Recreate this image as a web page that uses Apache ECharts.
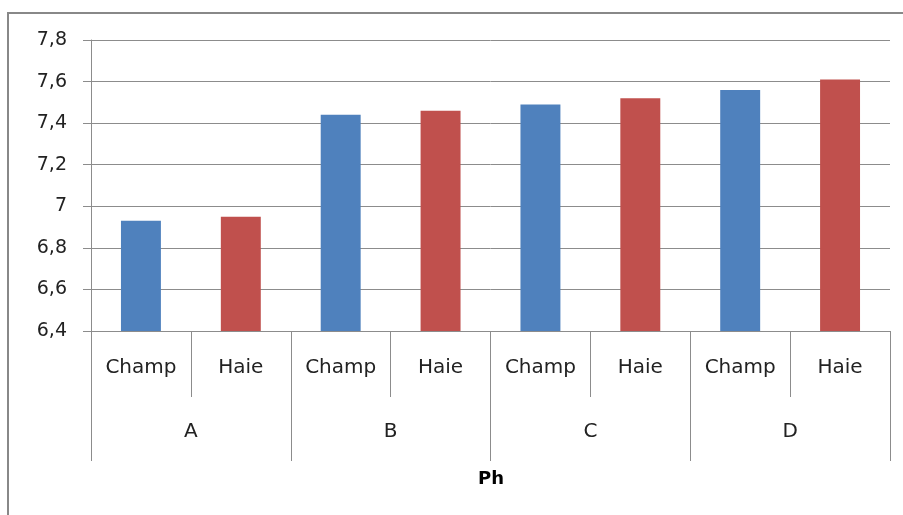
<!DOCTYPE html>
<html>
<head>
<meta charset="utf-8">
<script src="https://cdn.jsdelivr.net/npm/echarts@6/dist/echarts.min.js"></script>
<style>
  html, body { margin: 0; padding: 0; background: #fff; }
  #chart { width: 903px; height: 515px; }
</style>
</head>
<body>
<div id="chart"></div>
<script>
// Sub-categories (inner level) and groups (outer level)
const subCategories = ['Champ', 'Haie', 'Champ', 'Haie', 'Champ', 'Haie', 'Champ', 'Haie'];
const groups = ['A', 'B', 'C', 'D'];
// pH values per bar, in the order of subCategories
const phValues = [6.93, 6.95, 7.44, 7.46, 7.49, 7.52, 7.56, 7.61];
const barColors = ['#4F81BD', '#C0504D'];
const axisTitle = 'Ph';

const font = 'DejaVu Sans';
const gridColor = '#8c8c8c';

const chart = echarts.init(document.getElementById('chart'));
chart.setOption({
  animation: false,
  grid: { left: 91, right: 13, top: 40, bottom: 184, containLabel: false },
  graphic: [
    {
      type: 'rect',
      shape: { x: 8, y: 13, width: 1000, height: 600 },
      style: { fill: 'none', stroke: '#888', lineWidth: 2 },
      silent: true
    },
    {
      type: 'text',
      left: 478, top: 470,
      style: { text: axisTitle, font: 'bold 18px "' + font + '"', fill: '#000' }
    }
  ],
  xAxis: [
    {
      type: 'category',
      data: subCategories,
      position: 'bottom',
      axisLine: { show: true, lineStyle: { color: gridColor, width: 1 } },
      axisTick: { show: true, interval: 0, length: 66, lineStyle: { color: gridColor } },
      axisLabel: { interval: 0, margin: 27, color: '#222', fontFamily: font, fontSize: 20 },
      splitLine: { show: false }
    },
    {
      type: 'category',
      data: groups,
      position: 'bottom',
      axisLine: { show: false },
      axisTick: { show: true, interval: 0, length: 130, lineStyle: { color: gridColor } },
      axisLabel: { interval: 0, margin: 91, color: '#222', fontFamily: font, fontSize: 20 },
      splitLine: { show: false }
    }
  ],
  yAxis: {
    type: 'value',
    min: 6.4, max: 7.8, interval: 0.2,
    axisLine: { show: true, lineStyle: { color: gridColor } },
    axisTick: { show: true, length: 8, lineStyle: { color: gridColor } },
    axisLabel: {
      margin: 24, color: '#222', fontFamily: font, fontSize: 19,
      formatter: v => String(Math.round(v * 10) / 10).replace('.', ',')
    },
    splitLine: { show: true, lineStyle: { color: gridColor, width: 1 } }
  },
  series: [{
    type: 'bar',
    xAxisIndex: 0,
    barWidth: '40%',
    data: phValues.map((v, i) => ({ value: v, itemStyle: { color: barColors[i % 2] } }))
  }]
});
</script>
</body>
</html>
